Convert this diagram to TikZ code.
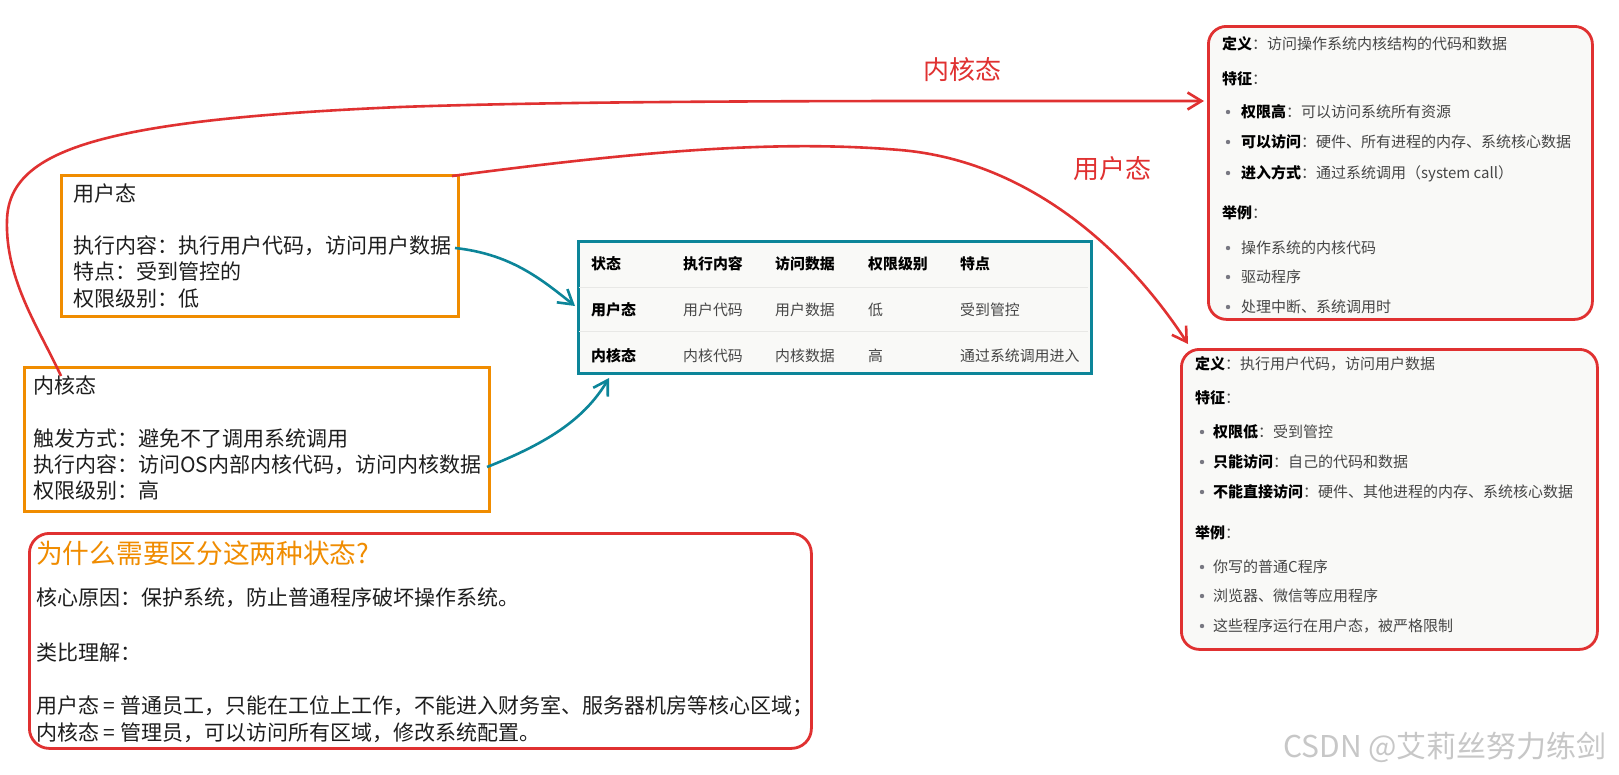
\documentclass[tikz,border=0pt]{standalone}
\usepackage{fontspec}
\setmainfont{Noto Sans CJK SC}
\usetikzlibrary{arrows.meta}
\definecolor{exred}{RGB}{224,49,49}
\definecolor{exorange}{RGB}{240,140,0}
\definecolor{exteal}{RGB}{12,133,153}
\definecolor{panel}{RGB}{249,249,247}
\definecolor{rowc}{RGB}{232,232,230}
\definecolor{txt}{RGB}{30,30,30}
\definecolor{ptxt}{RGB}{70,70,70}
\definecolor{bul}{RGB}{120,120,130}
\begin{document}
\begin{tikzpicture}[x=1pt,y=-1pt,
  obox/.style={draw=exorange, line width=2.8pt, anchor=north west, inner sep=0pt},
  rbox/.style={draw=exred, line width=2.8pt, rounded corners=18pt, fill=panel, anchor=north west, inner sep=0pt},
  tbox/.style={draw=exteal, line width=2.8pt, fill=panel, anchor=north west, inner sep=0pt},
  lt/.style={anchor=base west, inner sep=0pt, text=txt, font=\fontsize{21}{26}\selectfont},
  redlbl/.style={anchor=base west, inner sep=0pt, text=exred, font=\fontsize{26}{30}\selectfont},
  tc/.style={anchor=base west, inner sep=0pt, text=ptxt, font=\fontsize{14.9}{18}\selectfont},
  th/.style={tc, text=black, font=\fontsize{14.9}{18}\selectfont\bfseries},
  pt/.style={anchor=base west, inner sep=0pt, text=ptxt, font=\fontsize{15}{18}\selectfont},
  bt/.style={anchor=base west, inner sep=0pt, text=txt, font=\fontsize{21}{26}\selectfont},
  rowline/.style={draw=rowc, line width=1pt},
  bdot/.style={fill=bul},
  redarrow/.style={draw=exred, line width=2.6pt, -{Straight Barb[length=14pt,width=17pt,line width=2.6pt]}},
  tealarrow/.style={draw=exteal, line width=2.6pt, -{Straight Barb[length=14pt,width=17pt,line width=2.6pt]}}
]
\path[use as bounding box, fill=white] (0,0) rectangle (1619,774);

% left boxes
\node[obox, minimum width=397pt, minimum height=141pt] (ubox) at (60,174) {};
\node[lt] (u1) at (73,201) {用户态};
\node[lt] (u2) at (73,253) {执行内容：执行用户代码，访问用户数据};
\node[lt] (u3) at (73,279) {特点：受到管控的};
\node[lt] (u4) at (73,306) {权限级别：低};

\node[obox, minimum width=465pt, minimum height=144pt] (kbox) at (23,366) {};
\node[lt] (k1) at (33,393) {内核态};
\node[lt] (k2) at (33,446) {触发方式：避免不了调用系统调用};
\node[lt] (k3) at (33,472) {执行内容：访问OS内部内核代码，访问内核数据};
\node[lt] (k4) at (33,498) {权限级别：高};

% table
\node[tbox, minimum width=513pt, minimum height=132pt] (tbl) at (577,240) {};
\draw[rowline] (579,287) -- (1088,287);
\draw[rowline] (579,331) -- (1088,331);
\node[th] (h1) at (591,269.5) {状态};
\node[th] (h2) at (683,269.5) {执行内容};
\node[th] (h3) at (775,269.5) {访问数据};
\node[th] (h4) at (868,269.5) {权限级别};
\node[th] (h5) at (960,269.5) {特点};
\node[th] (r11) at (591,315.5) {用户态};
\node[tc] (r12) at (683,315.5) {用户代码};
\node[tc] (r13) at (775,315.5) {用户数据};
\node[tc] (r14) at (868,315.5) {低};
\node[tc] (r15) at (960,315.5) {受到管控};
\node[th] (r21) at (591,361.5) {内核态};
\node[tc] (r22) at (683,361.5) {内核代码};
\node[tc] (r23) at (775,361.5) {内核数据};
\node[tc] (r24) at (868,361.5) {高};
\node[tc] (r25) at (960,361.5) {通过系统调用进入};

% top-right panel (kernel)
\node[rbox, minimum width=384pt, minimum height=293pt] (kpanel) at (1207,25) {};
\node[pt] (a1) at (1222,49.6) {\textbf{\color{black}定义}：访问操作系统内核结构的代码和数据};
\node[pt] (a2) at (1222,84.6) {\textbf{\color{black}特征}：};
\fill[bdot] (1228,112) circle (2.2pt);
\node[pt] (a3) at (1241,117.6) {\textbf{\color{black}权限高}：可以访问系统所有资源};
\fill[bdot] (1228,142) circle (2.2pt);
\node[pt] (a4) at (1241,147.6) {\textbf{\color{black}可以访问}：硬件、所有进程的内存、系统核心数据};
\fill[bdot] (1228,173) circle (2.2pt);
\node[pt] (a5) at (1241,178.6) {\textbf{\color{black}进入方式}：通过系统调用（system call）};
\node[pt] (a6) at (1222,218.6) {\textbf{\color{black}举例}：};
\fill[bdot] (1228,248) circle (2.2pt);
\node[pt] (a7) at (1241,253.6) {操作系统的内核代码};
\fill[bdot] (1228,277) circle (2.2pt);
\node[pt] (a8) at (1241,282.6) {驱动程序};
\fill[bdot] (1228,307) circle (2.2pt);
\node[pt] (a9) at (1241,312.6) {处理中断、系统调用时};

% bottom-right panel (user)
\node[rbox, minimum width=416pt, minimum height=300pt] (upanel) at (1180,348) {};
\node[pt] (b1) at (1195,369.6) {\textbf{\color{black}定义}：执行用户代码，访问用户数据};
\node[pt] (b2) at (1195,403.6) {\textbf{\color{black}特征}：};
\fill[bdot] (1202,432) circle (2.2pt);
\node[pt] (b3) at (1213,437.6) {\textbf{\color{black}权限低}：受到管控};
\fill[bdot] (1202,462) circle (2.2pt);
\node[pt] (b4) at (1213,467.6) {\textbf{\color{black}只能访问}：自己的代码和数据};
\fill[bdot] (1202,492) circle (2.2pt);
\node[pt] (b5) at (1213,497.6) {\textbf{\color{black}不能直接访问}：硬件、其他进程的内存、系统核心数据};
\node[pt] (b6) at (1195,538.6) {\textbf{\color{black}举例}：};
\fill[bdot] (1202,567) circle (2.2pt);
\node[pt] (b7) at (1213,572.6) {你写的普通C程序};
\fill[bdot] (1202,596) circle (2.2pt);
\node[pt] (b8) at (1213,601.6) {浏览器、微信等应用程序};
\fill[bdot] (1202,626) circle (2.2pt);
\node[pt] (b9) at (1213,631.6) {这些程序运行在用户态，被严格限制};

% bottom box
\node[draw=exred, line width=2.8pt, rounded corners=20pt, anchor=north west, inner sep=0pt,
      minimum width=782pt, minimum height=215pt] (why) at (28,532) {};
\node[anchor=base west, inner sep=0pt, text=exorange, font=\fontsize{26.7}{30}\selectfont] (w0) at (36,563) {为什么需要区分这两种状态?};
\node[bt] (w1) at (36,605) {核心原因：保护系统，防止普通程序破坏操作系统。};
\node[bt] (w2) at (36,660) {类比理解：};
\node[bt] (w3) at (36,713) {用户态\ =\ 普通员工，只能在工位上工作，不能进入财务室、服务器机房等核心区域；};
\node[bt] (w4) at (36,740) {内核态\ =\ 管理员，可以访问所有区域，修改系统配置。};

% red labels
\node[redlbl] (lk) at (923,79) {内核态};
\node[redlbl] (lu) at (1073,178) {用户态};

% connectors
\coordinate (ks) at (61,376);
\coordinate (ke) at (1204,101);
\draw[redarrow] (ks) .. controls (40,330) and (5,280) .. (7,220)
   .. controls (9,150) and (100,120) .. (400,107)
   .. controls (600,100) and (900,101) .. (ke);
\coordinate (us) at (452,176);
\coordinate (ue) at (1188,344);
\draw[redarrow] (us) .. controls (650,150) and (780,140) .. (900,150)
   .. controls (1020,160) and (1120,240) .. (ue);

\coordinate (t1s) at (455,248);
\coordinate (t1e) at (575,306);
\draw[tealarrow] (t1s) .. controls (510,254) and (540,278) .. (t1e);
\coordinate (t2s) at (487,467);
\coordinate (t2e) at (609,378);
\draw[tealarrow] (t2s) .. controls (550,442) and (585,418) .. (t2e);

% watermark
\node[anchor=base east, inner sep=0pt, text=black!22, font=\fontsize{30}{34}\selectfont] (wm) at (1607,757) {CSDN @艾莉丝努力练剑};
\end{tikzpicture}
\end{document}
